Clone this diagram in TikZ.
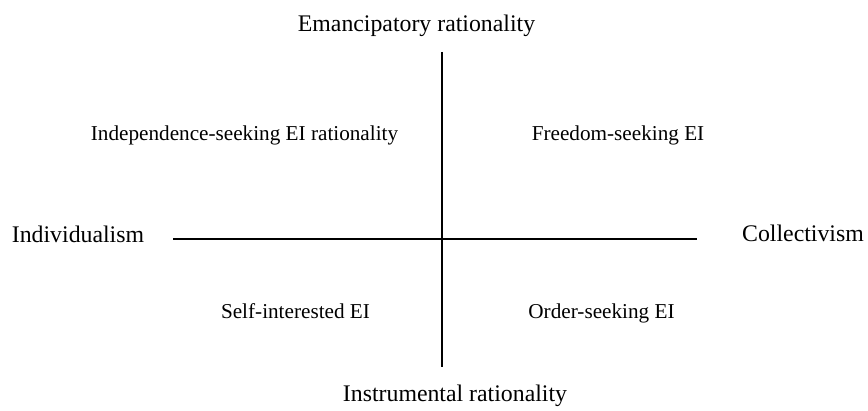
\documentclass[tikz,border=0pt]{standalone}
\usepackage{fontspec}
\setmainfont{Liberation Serif}
\usepackage{tikz}

\begin{document}
\begin{tikzpicture}[x=1pt,y=1pt,axis/.style={line width=1.4pt},
  pole/.style={anchor=base,inner sep=0pt,font=\fontsize{23.8}{28}\selectfont},
  quad/.style={anchor=base,inner sep=0pt,font=\fontsize{21.2}{25}\selectfont}]
\useasboundingbox (0,0) rectangle (868,411);
\coordinate (top) at (442,359);
\coordinate (bot) at (442,44);
\coordinate (lft) at (173,172);
\coordinate (rgt) at (697,172);
\node[pole] (eman) at (416.5,379.5) {Emancipatory rationality};
\node[pole] (inst) at (455,9.5) {Instrumental rationality};
\node[pole] (indiv) at (78,168.5) {Individualism};
\node[pole] (coll) at (803,169) {Collectivism};
\node[quad] (indep) at (244.5,270) {Independence-seeking EI rationality};
\node[quad] (free) at (618,270) {Freedom-seeking EI};
\node[quad] (self) at (295.5,92) {Self-interested EI};
\node[quad] (order) at (601.5,92) {Order-seeking EI};
\draw[axis] (top) -- (bot);
\draw[axis] (lft) -- (rgt);
\end{tikzpicture}
\end{document}
